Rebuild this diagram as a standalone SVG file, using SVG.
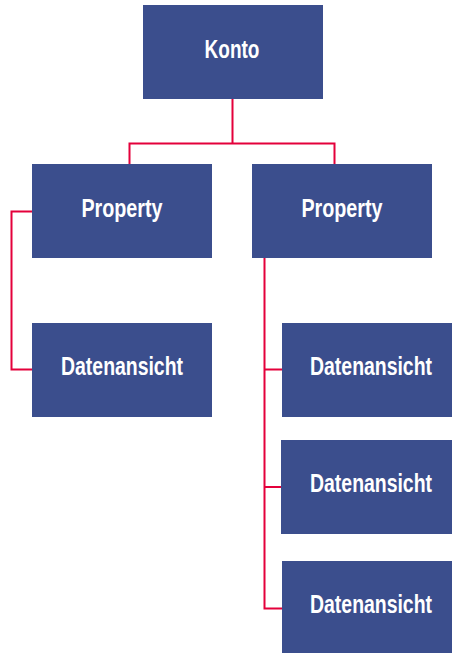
<svg xmlns="http://www.w3.org/2000/svg" width="452" height="653" viewBox="0 0 452 653">
<style>
.box{fill:#3B4E8D}
.lbl{font-family:"Liberation Sans",Arial,sans-serif;font-weight:bold;font-size:25px;fill:#ffffff;text-anchor:middle}
.con{fill:none;stroke:#E4003B;stroke-width:2}
</style>
<rect width="452" height="653" fill="#ffffff"/>
<g id="connectors">
<path class="con" d="M232.5,99 V143.5 H129.5 V164 M232.5,143.5 H334.5 V164"/>
<path class="con" d="M32,211.5 H11.5 V369.5 H32"/>
<path class="con" d="M264.5,258 V608.5 H282 M264.5,369.5 H282 M264.5,487 H281"/>
</g>
<g id="konto"><rect class="box" x="143" y="5" width="180" height="94"/><text class="lbl" transform="translate(232,58) scale(0.76,1)">Konto</text></g>
<g id="property1"><rect class="box" x="32" y="164" width="180" height="94"/><text class="lbl" transform="translate(122,217) scale(0.79,1)">Property</text></g>
<g id="property2"><rect class="box" x="252" y="164" width="180" height="94"/><text class="lbl" transform="translate(342,217) scale(0.79,1)">Property</text></g>
<g id="daten1"><rect class="box" x="32" y="323" width="180" height="94"/><text class="lbl" transform="translate(122,375) scale(0.777,1)">Datenansicht</text></g>
<g id="daten2"><rect class="box" x="282" y="323" width="170" height="94"/><text class="lbl" transform="translate(371,375) scale(0.777,1)">Datenansicht</text></g>
<g id="daten3"><rect class="box" x="281" y="440" width="171" height="94"/><text class="lbl" transform="translate(371,492) scale(0.777,1)">Datenansicht</text></g>
<g id="daten4"><rect class="box" x="282" y="561" width="170" height="92"/><text class="lbl" transform="translate(371,613) scale(0.777,1)">Datenansicht</text></g>
</svg>
